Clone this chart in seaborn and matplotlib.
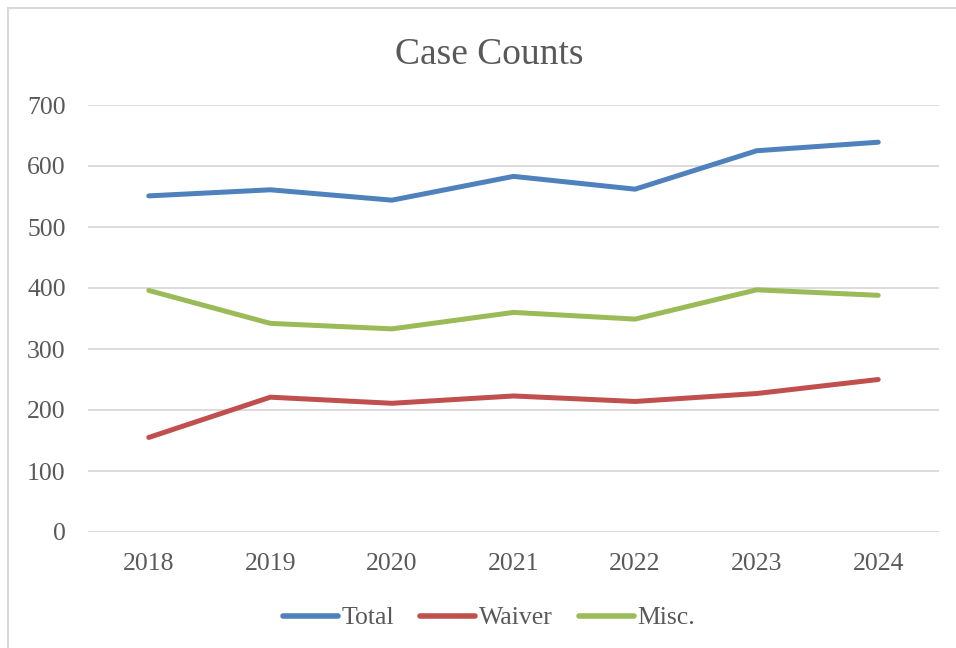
import matplotlib
matplotlib.use("Agg")
import matplotlib.pyplot as plt
import matplotlib.patches as mpatches
import seaborn as sns
import pandas as pd

years = ["2018", "2019", "2020", "2021", "2022", "2023", "2024"]
total = [551, 561, 544, 583, 562, 625, 639]
waiver = [155, 221, 211, 223, 214, 227, 250]
misc = [396, 342, 333, 360, 349, 397, 388]
series_names = ["Total", "Waiver", "Misc."]
colors = ["#4F81BD", "#C0504D", "#9BBB59"]
title = "Case Counts"
yticks = [0, 100, 200, 300, 400, 500, 600, 700]

df = pd.DataFrame({
    "Year": years * 3,
    "Count": total + waiver + misc,
    "Series": [series_names[0]] * 7 + [series_names[1]] * 7 + [series_names[2]] * 7,
})

sns.set_theme(style="white")
plt.rcParams["font.family"] = ["Liberation Serif", "DejaVu Serif"]
text_color = "#595959"

fig = plt.figure(figsize=(9.56, 6.48), dpi=100)
ax = fig.add_axes([88 / 956, 1 - 532 / 648, (939 - 88) / 956, (532 - 105) / 648])

sns.lineplot(data=df, x="Year", y="Count", hue="Series", palette=colors,
             hue_order=series_names, linewidth=3.6, ax=ax, sort=False,
             solid_capstyle="round", legend=True)

ax.set_xlim(-0.5, 6.5)
ax.set_ylim(0, 700)
ax.set_yticks(yticks)
ax.set_yticklabels([str(v) for v in yticks])
ax.grid(axis="y", color="#D9D9D9", linewidth=1.3)
ax.set_axisbelow(True)
for s in ax.spines.values():
    s.set_visible(False)
ax.tick_params(axis="both", length=0, labelsize=18.5, colors=text_color)
ax.tick_params(axis="y", pad=16)
ax.tick_params(axis="x", pad=15)
ax.set_xlabel("")
ax.set_ylabel("")

fig.text(489 / 956, 1 - 55 / 648, title, ha="center", va="center",
         fontsize=27, color=text_color)

handles, labels = ax.get_legend_handles_labels()
for h in handles:
    h.set_linewidth(4)
    h.set_solid_capstyle("round")
ax.legend_.remove()
leg = fig.legend(handles, labels, loc="center", bbox_to_anchor=(489 / 956, 1 - 618 / 648),
                 ncol=3, frameon=False, fontsize=18.5, handlelength=2.15,
                 handletextpad=0.15, columnspacing=1.0, labelcolor=text_color)

border = mpatches.Rectangle((8 / 956, -0.05), 1.1, 1 - 8 / 648 + 0.05, transform=fig.transFigure,
                            fill=False, edgecolor="#D9D9D9", linewidth=1.5)
fig.patches.append(border)

fig.savefig("out.png", dpi=100)
